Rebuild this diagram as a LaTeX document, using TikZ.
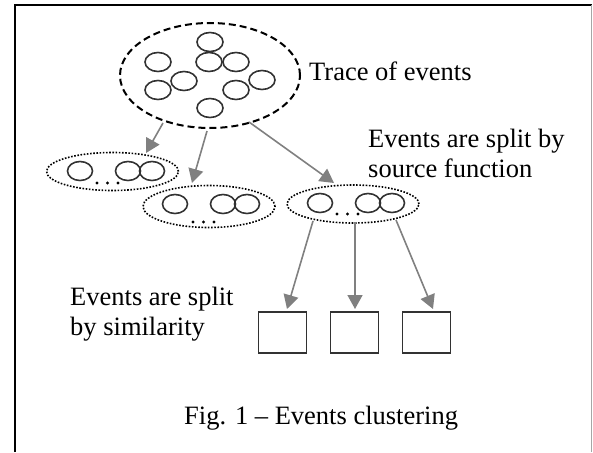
\documentclass[tikz,border=0pt]{standalone}
\usepackage{fontspec}
\setmainfont{Liberation Serif}
\usetikzlibrary{arrows.meta,shapes.geometric}
\definecolor{arrowgray}{RGB}{128,128,128}
\definecolor{circgray}{RGB}{50,50,50}
\tikzset{
  ev/.style={ellipse,draw=circgray,line width=1.6pt,minimum width=26pt,minimum height=19pt,inner sep=0pt},
  bigell/.style={ellipse,draw=black,line width=2pt,dash pattern=on 7pt off 4pt,inner sep=0pt},
  dotell/.style={ellipse,draw=black,line width=1.6pt,dash pattern=on 1.6pt off 1.6pt,minimum width=132pt,minimum height=38pt,inner sep=0pt},
  boxn/.style={draw=circgray,line width=1.4pt,minimum width=48pt,minimum height=41pt,inner sep=0pt},
  conn/.style={draw=arrowgray,line width=1.6pt,-{Triangle[length=14pt,width=15pt]}},
  lbl/.style={inner sep=0pt,anchor=base west,font=\fontsize{26.5}{30}\selectfont},
  dotm/.style={circle,fill=black,inner sep=0pt,minimum size=3.4pt}
}
\begin{document}
\begin{tikzpicture}[x=1pt,y=-1pt]
\useasboundingbox (0,0) rectangle (593,452);
% frame
\draw[black,line width=2pt] (14.5,452) -- (14.5,5) -- (592,5);
\draw[black!35,line width=1pt] (591,5) -- (591,452);

% big dashed ellipse with events
\node[bigell,minimum width=180pt,minimum height=105pt] (trace) at (210,75.5) {};
\node[ev] (c1) at (210,42) {};
\node[ev] (c2) at (209,62) {};
\node[ev] (c3) at (236,62) {};
\node[ev] (c4) at (158,62) {};
\node[ev] (c5) at (158,90) {};
\node[ev] (c6) at (184,81) {};
\node[ev] (c7) at (262,80) {};
\node[ev] (c8) at (236,90) {};
\node[ev] (c9) at (210,108) {};
\node[lbl] (tlabel) at (309,80) {Trace of events};

% split groups
\node[dotell] (g1) at (112.5,171.5) {};
\node[ev,minimum width=25pt] (g1a) at (80,171) {};
\node[ev,minimum width=25pt] (g1b) at (128,171) {};
\node[ev,minimum width=25pt] (g1c) at (152,171) {};
\node[dotm] (g1d1) at (97,183) {};
\node[dotm] (g1d2) at (107.5,183) {};
\node[dotm] (g1d3) at (118,183) {};

\node[dotell,minimum height=42pt] (g2) at (209,206.5) {};
\node[ev,minimum width=25pt] (g2a) at (175,204) {};
\node[ev,minimum width=25pt] (g2b) at (223,204) {};
\node[ev,minimum width=25pt] (g2c) at (247,204) {};
\node[dotm] (g2d1) at (193,222) {};
\node[dotm] (g2d2) at (203.5,222) {};
\node[dotm] (g2d3) at (214,222) {};

\node[dotell] (g3) at (353,204) {};
\node[ev,minimum width=25pt] (g3a) at (320,203) {};
\node[ev,minimum width=25pt] (g3b) at (368,203) {};
\node[ev,minimum width=25pt] (g3c) at (392,203) {};
\node[dotm] (g3d1) at (337,214) {};
\node[dotm] (g3d2) at (347.5,214) {};
\node[dotm] (g3d3) at (358,214) {};

\node[lbl] (slabel1) at (368,147) {Events are split by};
\node[lbl] (slabel2) at (368,177) {source function};

% clusters
\node[boxn] (b1) at (282.5,332.5) {};
\node[boxn] (b2) at (354.5,332.5) {};
\node[boxn] (b3) at (426.5,332.5) {};

\node[lbl] (mlabel1) at (70,305) {Events are split};
\node[lbl] (mlabel2) at (70,335) {by similarity};

\node[lbl] (caption) at (184,424) {Fig. 1 -- Events clustering};

% connector end points
\coordinate (a1s) at (163,123);
\coordinate (a1e) at (146,153);
\coordinate (a2s) at (207,131);
\coordinate (a2e) at (192,183);
\coordinate (a3s) at (249,122);
\coordinate (a3e) at (334,183);
\coordinate (a4s) at (313,221);
\coordinate (a4e) at (287,309);
\coordinate (a5s) at (355,222);
\coordinate (a5e) at (355,309);
\coordinate (a6s) at (396,220);
\coordinate (a6e) at (433,309);

\draw[conn] (a1s) -- (a1e);
\draw[conn] (a2s) -- (a2e);
\draw[conn] (a3s) -- (a3e);
\draw[conn] (a4s) -- (a4e);
\draw[conn] (a5s) -- (a5e);
\draw[conn] (a6s) -- (a6e);
\end{tikzpicture}
\end{document}
